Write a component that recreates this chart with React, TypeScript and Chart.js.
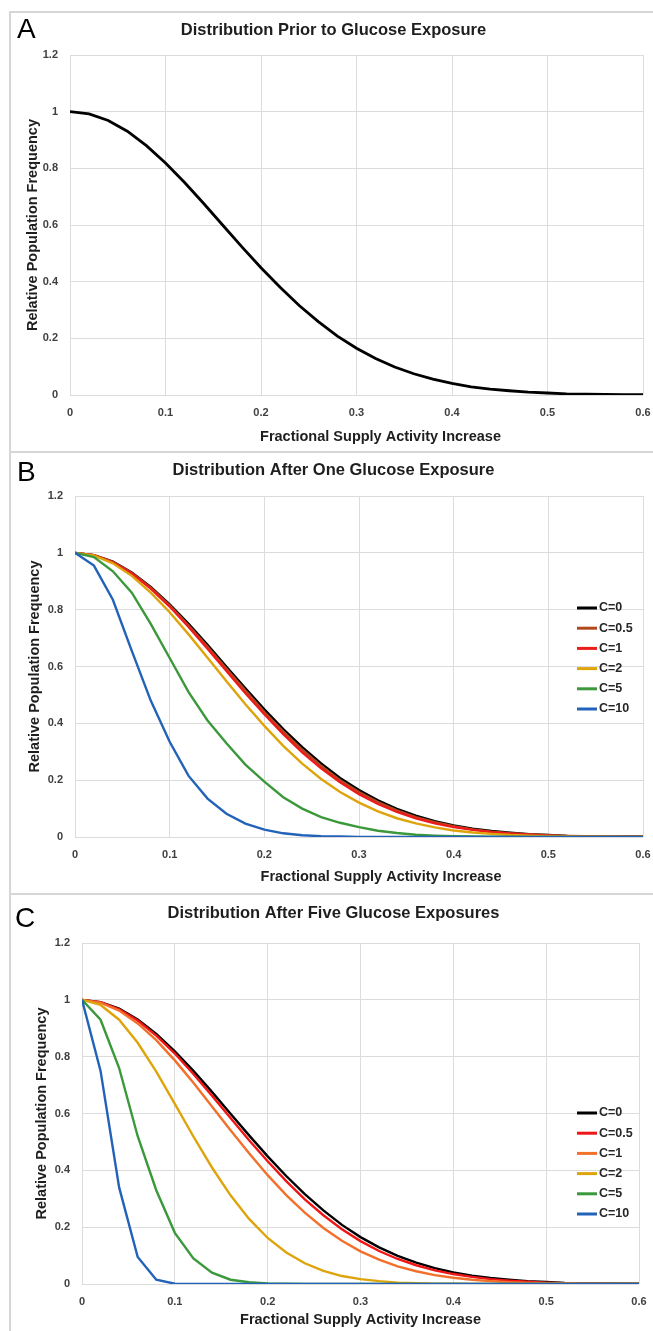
import React, { useEffect, useRef } from "react";
import { Chart, registerables } from "chart.js";

Chart.register(...registerables);
Chart.defaults.font.family = "'Liberation Sans', Arial, sans-serif";

// ---------- data ----------
const xValues = [
  0, 0.02, 0.04, 0.06, 0.08, 0.1, 0.12, 0.14, 0.16, 0.18, 0.2, 0.22, 0.24, 0.26, 0.28, 0.3,
  0.32, 0.34, 0.36, 0.38, 0.4, 0.42, 0.44, 0.46, 0.48, 0.5, 0.52, 0.54, 0.56, 0.58, 0.6,
];
const xTickLabels = ["0", "0.1", "0.2", "0.3", "0.4", "0.5", "0.6"];
const yTickLabels = ["0", "0.2", "0.4", "0.6", "0.8", "1", "1.2"];
const seriesLabels = ["C=0", "C=0.5", "C=1", "C=2", "C=5", "C=10"];

// Panel A
const priorC0 = [
  1, 0.992, 0.969, 0.931, 0.88, 0.819, 0.75, 0.676, 0.599, 0.523, 0.449, 0.38, 0.316, 0.259, 0.208, 0.165,
  0.129, 0.099, 0.075, 0.056, 0.041, 0.029, 0.021, 0.015, 0.01, 0.007, 0.004, 0.003, 0.002, 0.001, 0.001,
];

// Panel B
const oneC0 = [
  1, 0.992, 0.969, 0.931, 0.88, 0.819, 0.75, 0.676, 0.599, 0.523, 0.449, 0.38, 0.316, 0.259, 0.208, 0.165,
  0.129, 0.099, 0.075, 0.056, 0.041, 0.029, 0.021, 0.015, 0.01, 0.007, 0.004, 0.003, 0.002, 0.001, 0.001,
];
const oneC05 = [
  1, 0.992, 0.968, 0.929, 0.877, 0.815, 0.744, 0.669, 0.592, 0.515, 0.44, 0.371, 0.307, 0.25, 0.2, 0.158,
  0.123, 0.094, 0.07, 0.052, 0.038, 0.027, 0.019, 0.013, 0.009, 0.006, 0.004, 0.003, 0.002, 0.001, 0.001,
];
const oneC1 = [
  1, 0.992, 0.967, 0.927, 0.874, 0.811, 0.739, 0.663, 0.584, 0.506, 0.432, 0.362, 0.298, 0.242, 0.193, 0.151,
  0.116, 0.088, 0.066, 0.048, 0.035, 0.025, 0.017, 0.012, 0.008, 0.005, 0.003, 0.002, 0.001, 0.001, 0.001,
];
const oneC2 = [
  1, 0.991, 0.963, 0.919, 0.86, 0.791, 0.713, 0.631, 0.548, 0.467, 0.391, 0.321, 0.258, 0.204, 0.158, 0.121,
  0.09, 0.066, 0.048, 0.034, 0.023, 0.016, 0.011, 0.007, 0.005, 0.003, 0.002, 0.001, 0.001, 0, 0,
];
const oneC5 = [
  1, 0.985, 0.935, 0.86, 0.75, 0.63, 0.51, 0.41, 0.33, 0.255, 0.195, 0.14, 0.1, 0.07, 0.05, 0.035,
  0.022, 0.014, 0.008, 0.005, 0.003, 0.002, 0.001, 0.001, 0, 0, 0, 0, 0, 0, 0,
];
const oneC10 = [
  1, 0.955, 0.835, 0.655, 0.48, 0.335, 0.215, 0.135, 0.082, 0.047, 0.026, 0.013, 0.006, 0.003, 0.0015, 0.0005,
  0, 0, 0, 0, 0, 0, 0, 0, 0, 0, 0, 0, 0, 0, 0,
];

// Panel C
const fiveC0 = [
  1, 0.992, 0.969, 0.931, 0.88, 0.819, 0.75, 0.676, 0.599, 0.523, 0.449, 0.38, 0.316, 0.259, 0.208, 0.165,
  0.129, 0.099, 0.075, 0.056, 0.041, 0.029, 0.021, 0.015, 0.01, 0.007, 0.004, 0.003, 0.002, 0.001, 0.001,
];
const fiveC05 = [
  1, 0.992, 0.967, 0.927, 0.874, 0.811, 0.739, 0.663, 0.584, 0.506, 0.432, 0.362, 0.298, 0.242, 0.193, 0.151,
  0.116, 0.088, 0.066, 0.048, 0.035, 0.025, 0.017, 0.012, 0.008, 0.005, 0.003, 0.002, 0.001, 0.001, 0.001,
];
const fiveC1 = [
  1, 0.99, 0.962, 0.917, 0.858, 0.787, 0.708, 0.625, 0.541, 0.46, 0.383, 0.313, 0.251, 0.197, 0.152, 0.115,
  0.086, 0.062, 0.045, 0.031, 0.022, 0.015, 0.01, 0.006, 0.004, 0.003, 0.002, 0.001, 0.001, 0, 0,
];
const fiveC2 = [
  1, 0.982, 0.93, 0.849, 0.747, 0.634, 0.519, 0.41, 0.312, 0.229, 0.162, 0.111, 0.073, 0.046, 0.028, 0.017,
  0.01, 0.005, 0.003, 0.001, 0.001, 0, 0, 0, 0, 0, 0, 0, 0, 0, 0,
];
const fiveC5 = [
  1, 0.93, 0.76, 0.52, 0.33, 0.18, 0.09, 0.04, 0.015, 0.006, 0.002, 0.001, 0, 0, 0, 0,
  0, 0, 0, 0, 0, 0, 0, 0, 0, 0, 0, 0, 0, 0, 0,
];
const fiveC10 = [
  1, 0.75, 0.34, 0.095, 0.015, 0.001, 0, 0, 0, 0, 0, 0, 0, 0, 0, 0,
  0, 0, 0, 0, 0, 0, 0, 0, 0, 0, 0, 0, 0, 0, 0,
];

// ---------- styling ----------
const GRID = "#dcdcdc";
const TICK_COLOR = "#404040";
const TEXT_COLOR = "#1e1e1e";
const FONT_FAMILY = "'Liberation Sans', Arial, sans-serif";
const X_TITLE = "Fractional Supply Activity Increase";
const Y_TITLE = "Relative Population Frequency";

const insideLegend = {
  id: "insideLegend",
  afterDraw(chart: any, _args: any, opts: any) {
    if (!opts || !opts.display) return;
    const ctx = chart.ctx;
    ctx.save();
    chart.data.datasets.forEach((ds: any, i: number) => {
      const yy = opts.y + i * opts.rowHeight;
      ctx.strokeStyle = ds.borderColor;
      ctx.lineWidth = 3;
      ctx.beginPath();
      ctx.moveTo(opts.x, yy);
      ctx.lineTo(opts.x + opts.lineLength, yy);
      ctx.stroke();
      ctx.fillStyle = opts.color;
      ctx.font = opts.font;
      ctx.textBaseline = "middle";
      ctx.textAlign = "left";
      ctx.fillText(ds.label, opts.x + opts.lineLength + opts.gap, yy);
    });
    ctx.restore();
  },
};

// x-axis title drawn under the x scale, horizontally shifted by dx from the plot centre
const xAxisTitle = {
  id: "xAxisTitle",
  afterDraw(chart: any, _args: any, opts: any) {
    if (!opts || !opts.text) return;
    const ctx = chart.ctx;
    const xs = chart.scales.x;
    ctx.save();
    ctx.fillStyle = opts.color;
    ctx.font = opts.font;
    ctx.textAlign = "center";
    ctx.textBaseline = "middle";
    ctx.fillText(opts.text, (xs.left + xs.right) / 2 + opts.dx, xs.bottom - opts.fromBottom);
    ctx.restore();
  },
};

type Series = { label: string; values: number[]; color: string };
type PanelCfg = {
  title: string;
  top: number;
  height: number;
  padLeft: number;
  padRight: number;
  titleTop: number;
  titleBottom: number;
  xAxisHeight: number;
  xTitleFromBottom: number;
  xTitleDx: number;
  yAxisWidth: number;
  yTitleTop: number;
  legend: null | { x: number; y: number };
  series: Series[];
};

const panels: PanelCfg[] = [
  {
    title: "Distribution Prior to Glucose Exposure",
    top: 14,
    height: 436,
    padLeft: 24,
    padRight: 10,
    titleTop: 6.1,
    titleBottom: 15.1,
    xAxisHeight: 55,
    xTitleFromBottom: 13,
    xTitleDx: 24,
    yAxisWidth: 46,
    yTitleTop: 0.3,
    legend: null,
    series: [{ label: "C=0", values: priorC0, color: "#000000" }],
  },
  {
    title: "Distribution After One Glucose Exposure",
    top: 454,
    height: 438,
    padLeft: 24,
    padRight: 10,
    titleTop: 6.1,
    titleBottom: 16.1,
    xAxisHeight: 55,
    xTitleFromBottom: 15,
    xTitleDx: 22,
    yAxisWidth: 51,
    yTitleTop: 2.3,
    legend: { x: 577, y: 154 },
    series: [
      { label: seriesLabels[0], values: oneC0, color: "#000000" },
      { label: seriesLabels[1], values: oneC05, color: "#b04a1e" },
      { label: seriesLabels[2], values: oneC1, color: "#ee1b1b" },
      { label: seriesLabels[3], values: oneC2, color: "#dea40c" },
      { label: seriesLabels[4], values: oneC5, color: "#3b983b" },
      { label: seriesLabels[5], values: oneC10, color: "#2262b8" },
    ],
  },
  {
    title: "Distribution After Five Glucose Exposures",
    top: 896,
    height: 435,
    padLeft: 28,
    padRight: 14,
    titleTop: 7.1,
    titleBottom: 20.1,
    xAxisHeight: 47,
    xTitleFromBottom: 11,
    xTitleDx: 0,
    yAxisWidth: 54,
    yTitleTop: 5.3,
    legend: { x: 577, y: 217 },
    series: [
      { label: seriesLabels[0], values: fiveC0, color: "#000000" },
      { label: seriesLabels[1], values: fiveC05, color: "#f01616" },
      { label: seriesLabels[2], values: fiveC1, color: "#f2702a" },
      { label: seriesLabels[3], values: fiveC2, color: "#dea40c" },
      { label: seriesLabels[4], values: fiveC5, color: "#3b983b" },
      { label: seriesLabels[5], values: fiveC10, color: "#2262b8" },
    ],
  },
];

function PanelChart({ cfg }: { cfg: PanelCfg }) {
  const ref = useRef<HTMLCanvasElement>(null);
  useEffect(() => {
    if (!ref.current) return;
    const n = cfg.series.length;
    const chart = new Chart(ref.current, {
      type: "line",
      data: {
        datasets: cfg.series.map((s, i) => ({
          label: s.label,
          data: xValues.map((x, j) => ({ x, y: s.values[j] })),
          borderColor: s.color,
          backgroundColor: s.color,
          borderWidth: n === 1 ? 2.8 : 2.4,
          pointRadius: 0,
          tension: 0,
          fill: false,
          order: n - i,
        })),
      },
      options: {
        responsive: false,
        animation: false,
        events: [],
        layout: { padding: { left: cfg.padLeft, right: cfg.padRight, top: 0, bottom: 0 } },
        plugins: {
          legend: { display: false },
          tooltip: { enabled: false },
          title: {
            display: true,
            text: cfg.title,
            color: TEXT_COLOR,
            font: { size: 16.5, weight: "bold" },
            padding: { top: cfg.titleTop, bottom: cfg.titleBottom },
          },
          insideLegend: cfg.legend
            ? {
                display: true,
                x: cfg.legend.x,
                y: cfg.legend.y,
                rowHeight: 20.2,
                lineLength: 20,
                gap: 2,
                color: "#262626",
                font: `bold 12.5px ${FONT_FAMILY}`,
              }
            : { display: false },
          xAxisTitle: {
            text: X_TITLE,
            dx: cfg.xTitleDx,
            fromBottom: cfg.xTitleFromBottom,
            color: TEXT_COLOR,
            font: `bold 14.5px ${FONT_FAMILY}`,
          },
        } as any,
        scales: {
          x: {
            type: "linear",
            min: 0,
            max: 0.6,
            ticks: {
              stepSize: 0.1,
              padding: 2,
              color: TICK_COLOR,
              font: { size: 11, weight: "bold", lineHeight: "32px" },
              autoSkip: false,
              maxRotation: 0,
              callback: (_v: any, i: number) => xTickLabels[i],
            },
            grid: { color: GRID, lineWidth: 1, drawTicks: false },
            border: { display: false },
            title: { display: false },
            afterFit: (s: any) => {
              s.height = cfg.xAxisHeight;
            },
          },
          y: {
            type: "linear",
            min: 0,
            max: 1.2,
            ticks: {
              stepSize: 0.2,
              padding: 12,
              color: TICK_COLOR,
              font: { size: 11, weight: "bold" },
              autoSkip: false,
              callback: (_v: any, i: number) => yTickLabels[i],
            },
            grid: { color: GRID, lineWidth: 1, drawTicks: false },
            border: { display: false },
            title: {
              display: true,
              text: Y_TITLE,
              color: TEXT_COLOR,
              font: { size: 14.5, weight: "bold" },
              padding: { top: cfg.yTitleTop, bottom: 0 },
            },
            afterFit: (s: any) => {
              s.width = cfg.yAxisWidth;
            },
          },
        } as any,
      },
      plugins: [insideLegend as any, xAxisTitle as any],
    });
    return () => chart.destroy();
  }, [cfg]);
  return (
    <canvas
      ref={ref}
      width={653}
      height={cfg.height}
      style={{ position: "absolute", left: 0, top: cfg.top, width: 653, height: cfg.height }}
    />
  );
}

const letterStyle = (left: number, top: number): React.CSSProperties => ({
  position: "absolute",
  left,
  top,
  fontFamily: FONT_FAMILY,
  fontSize: 28,
  lineHeight: "28px",
  color: "#000",
});

const FRAME = "#d6d6d6";

export default function App() {
  return (
    <div
      style={{
        position: "absolute",
        left: 0,
        top: 0,
        width: 653,
        height: 1331,
        background: "#ffffff",
        overflow: "hidden",
      }}
    >
      <div style={{ position: "absolute", left: 9, top: 11, width: 644, height: 2, background: FRAME }} />
      <div style={{ position: "absolute", left: 9, top: 11, width: 2, height: 1320, background: FRAME }} />
      <div style={{ position: "absolute", left: 9, top: 451, width: 644, height: 2, background: FRAME }} />
      <div style={{ position: "absolute", left: 9, top: 893, width: 644, height: 2, background: FRAME }} />
      {panels.map((p, i) => (
        <PanelChart key={i} cfg={p} />
      ))}
      <div style={letterStyle(17, 15.4)}>A</div>
      <div style={letterStyle(17, 458.4)}>B</div>
      <div style={letterStyle(15, 904.4)}>C</div>
    </div>
  );
}
